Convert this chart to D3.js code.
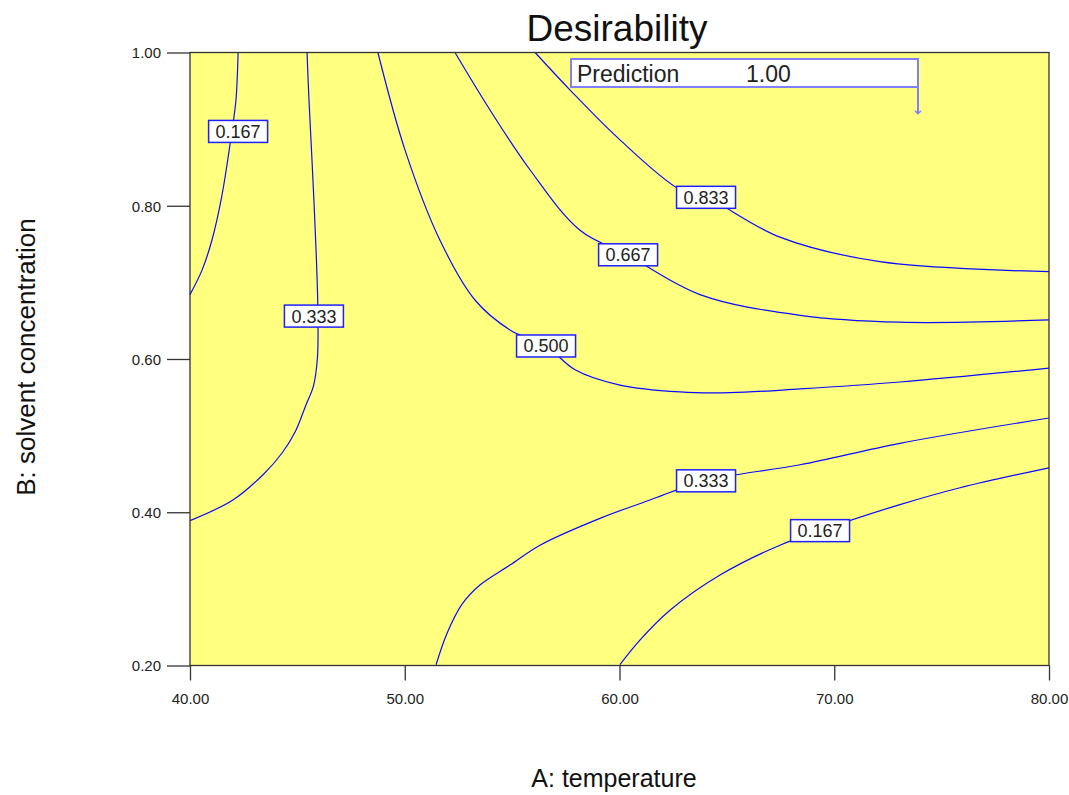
<!DOCTYPE html>
<html><head><meta charset="utf-8">
<script src="https://cdn.jsdelivr.net/npm/d3@7"></script>
<style>body{margin:0;background:#fff;} svg{display:block;}</style>
</head><body>
<script>
const title = "Desirability";
const xTitle = "A: temperature";
const yTitle = "B: solvent concentration";
const xTicks = [40, 50, 60, 70, 80];
const yTicks = [0.2, 0.4, 0.6, 0.8, 1.0];

// contour lines: [A, B] points
const c167top = [[42.24,1.0],[42.14,0.938],[41.96,0.899],[41.49,0.814],[41.02,0.755],[40.56,0.716],[40.0,0.684]];
const c333left = [[45.45,1.0],[45.54,0.938],[45.68,0.860],[45.87,0.742],[45.96,0.656],[45.93,0.600],[45.75,0.565],[45.40,0.540],[44.90,0.505],[44.28,0.477],[43.40,0.449],[42.00,0.416],[40.0,0.389]];
const c500 = [[48.75,1.0],[50.01,0.873],[51.64,0.755],[53.27,0.677],[54.90,0.638],[56.58,0.617],[57.93,0.586],[60.02,0.566],[62.82,0.557],[65.15,0.556],[68.41,0.561],[73.06,0.570],[80.0,0.588]];
const c667 = [[52.34,1.0],[53.97,0.925],[55.83,0.847],[58.16,0.768],[60.35,0.736],[63.75,0.684],[68.41,0.657],[73.06,0.648],[80.0,0.651]];
const c833 = [[56.07,1.0],[57.70,0.951],[60.02,0.886],[62.82,0.821],[63.98,0.812],[67.47,0.759],[72.13,0.727],[80.0,0.714]];
const c333low = [[51.46,0.201],[51.97,0.242],[52.67,0.280],[53.50,0.305],[54.90,0.331],[56.30,0.357],[59.09,0.392],[61.42,0.416],[63.98,0.441],[68.41,0.462],[73.06,0.490],[80.0,0.523]];
const c167low = [[60.02,0.201],[60.95,0.233],[62.35,0.272],[64.68,0.318],[67.47,0.357],[69.34,0.376],[73.06,0.410],[75.86,0.432],[80.0,0.458]];
const contours = [c167top, c333left, c500, c667, c833, c333low, c167low];

const labelTexts = ["0.167","0.333","0.500","0.667","0.833","0.333","0.167"];
const labelPos = [[42.24,0.897],[45.77,0.656],[56.58,0.617],[60.40,0.736],[64.03,0.811],[64.03,0.441],[69.34,0.376]];

const predictionLabel = "Prediction";
const predictionValue = "1.00";
const predictionPoint = [73.9, 0.92];

const FONT = "Liberation Sans, Arial, sans-serif";
const W = 1069, H = 795;
const svg = d3.select("body").append("svg").attr("width", W).attr("height", H);
const x = d3.scaleLinear().domain([40, 80]).range([190, 1049]);
const y = d3.scaleLinear().domain([0.2, 1.0]).range([665.5, 52.5]);

svg.append("rect").attr("x", 190).attr("y", 52.5).attr("width", 859).attr("height", 613)
  .attr("fill", "#ffff80");

const lineGen = d3.line().x(d => x(d[0])).y(d => y(d[1])).curve(d3.curveCatmullRom.alpha(0.5));
const g = svg.append("g");
contours.forEach(c => {
  g.append("path").attr("d", lineGen(c)).attr("fill", "none").attr("stroke", "#0a0aff").attr("stroke-width", 1.2);
});

// labels
labelTexts.forEach((t, i) => {
  const cx = x(labelPos[i][0]), cy = y(labelPos[i][1]);
  const lg = svg.append("g");
  lg.append("rect").attr("x", cx - 29.5).attr("y", cy - 11).attr("width", 59).attr("height", 22)
    .attr("fill", "#fff").attr("stroke", "#2020ff").attr("stroke-width", 1.5);
  lg.append("text").attr("x", cx).attr("y", cy + 6.5).attr("text-anchor", "middle")
    .attr("font-family", FONT).attr("font-size", 18).attr("fill", "#222").text(t);
});

// frame
svg.append("rect").attr("x", 190).attr("y", 52.5).attr("width", 859).attr("height", 613)
  .attr("fill", "none").attr("stroke", "#333").attr("stroke-width", 1.3);

// axes
const xAxis = d3.axisBottom(x).tickValues(xTicks).tickFormat(d3.format(".2f")).tickSize(15).tickSizeOuter(0);
const yAxis = d3.axisLeft(y).tickValues(yTicks).tickFormat(d3.format(".2f")).tickSize(23).tickSizeOuter(0);
const gx = svg.append("g").attr("transform", "translate(0,665.5)").call(xAxis);
const gy = svg.append("g").attr("transform", "translate(190,0)").call(yAxis);
[gx, gy].forEach(a => {
  a.select(".domain").remove();
  a.selectAll(".tick line").attr("stroke", "#333").attr("stroke-width", 1.3);
  a.selectAll(".tick text").attr("font-family", FONT).attr("font-size", 15).attr("fill", "#222");
});
gx.selectAll(".tick text").attr("dy", "0").attr("y", 38.5);
gy.selectAll(".tick text").attr("x", -29).attr("dy", "0.35em");

// titles
svg.append("text").attr("x", 617).attr("y", 41).attr("text-anchor", "middle")
  .attr("font-family", FONT).attr("font-size", 37).attr("fill", "#111").text(title);
svg.append("text").attr("x", 614).attr("y", 787).attr("text-anchor", "middle")
  .attr("font-family", FONT).attr("font-size", 25).attr("fill", "#111").text(xTitle);
svg.append("text").attr("transform", "translate(35,357) rotate(-90)").attr("text-anchor", "middle")
  .attr("font-family", FONT).attr("font-size", 26).attr("fill", "#111").text(yTitle);

// prediction box
const px = x(predictionPoint[0]), py = y(predictionPoint[1]);
svg.append("line").attr("x1", px).attr("x2", px).attr("y1", 87).attr("y2", py)
  .attr("stroke", "#8080ff").attr("stroke-width", 2);
svg.append("path").attr("d", `M${px-3},${py-3}L${px},${py}L${px+3},${py-3}`).attr("fill", "none").attr("stroke", "#8080ff").attr("stroke-width", 1.5);
svg.append("rect").attr("x", 571).attr("y", 59).attr("width", px - 571).attr("height", 28)
  .attr("fill", "#fff").attr("stroke", "#8080ff").attr("stroke-width", 2);
svg.append("text").attr("x", 577).attr("y", 82).attr("font-family", FONT)
  .attr("font-size", 23).attr("fill", "#222").text(predictionLabel);
svg.append("text").attr("x", 746).attr("y", 82).attr("font-family", FONT)
  .attr("font-size", 23).attr("fill", "#222").text(predictionValue);
</script>
</body></html>
